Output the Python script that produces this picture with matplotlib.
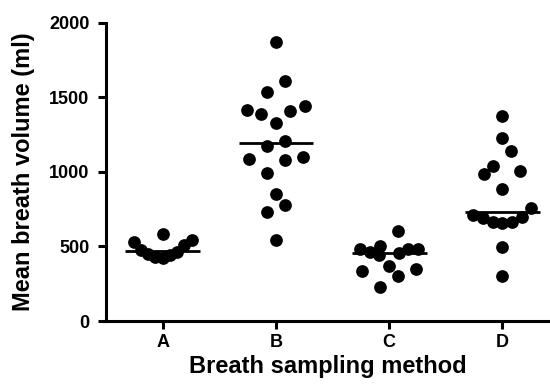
import numpy as np
import matplotlib
matplotlib.use("Agg")
import matplotlib.pyplot as plt

plt.rcParams['font.family'] = ['Liberation Sans', 'DejaVu Sans']
plt.rcParams['font.weight'] = 'bold'

# data (ml)
groups = ['A', 'B', 'C', 'D']
vol_A = [581, 540, 528, 510, 478, 463, 452, 440, 430, 422]
vol_B = [1871, 1606, 1536, 1439, 1412, 1407, 1389, 1327, 1206, 1175,
         1101, 1088, 1079, 990, 853, 779, 730, 541]
vol_C = [603, 505, 482, 480, 480, 464, 458, 442, 369, 348, 335, 302, 230]
vol_D = [1376, 1226, 1137, 1039, 1003, 987, 884, 755, 712, 699, 688,
         665, 665, 659, 498, 302]
yticks = [0, 500, 1000, 1500, 2000]


def row_offsets(ypix, h, smax, half):
    # column-scatter layout: points closer than h (px) share a row and
    # are spread sideways, lowest in the middle, alternating left/right
    order = np.argsort(ypix, kind='stable')
    xs = np.zeros(len(ypix))
    i = 0
    while i < len(order):
        j = i
        while j < len(order) and ypix[order[j]] - ypix[order[i]] < h:
            j += 1
        row = order[i:j]
        n = len(row)
        s = smax if n < 2 else min(smax, 2 * half / (n - 1))
        if n % 2:
            slots = [0.0] + [sg * k * s for k in range(1, n // 2 + 1) for sg in (-1, 1)]
        else:
            slots = [sg * (k - 0.5) * s for k in range(1, n // 2 + 1) for sg in (-1, 1)]
        xs[row] = slots[:n]
        i = j
    return xs


fig = plt.figure(figsize=(5.5, 3.92), dpi=100)
ax = fig.add_axes([0.1927, 0.1811, 0.8073, 0.7615])
ax.set_xlim(-0.5, 3.42)
ax.set_ylim(0, 2000)

bbox = ax.get_window_extent()
px_x = bbox.width / 3.92     # pixels per category unit
px_y = bbox.height / 2000.0  # pixels per ml

for k, vals in enumerate([vol_A, vol_B, vol_C, vol_D]):
    vals = np.array(vals, dtype=float)
    off = row_offsets(vals * px_y, 18.0, 18.0, 29.0) / px_x
    ax.scatter(k + off, vals, s=84, color='black', linewidths=0, zorder=3)
    med = np.median(vals)
    ax.plot([k - 0.33, k + 0.33], [med, med], color='black', lw=2, zorder=4,
            solid_capstyle='butt')

ax.set_xticks(range(len(groups)))
ax.set_xticklabels(groups)
ax.set_yticks(yticks)
ax.set_yticklabels([str(t) for t in yticks])

for s in ['top', 'right']:
    ax.spines[s].set_visible(False)
for s in ['left', 'bottom']:
    ax.spines[s].set_linewidth(2.2)
ax.tick_params(axis='both', direction='out', length=5.5, width=2.2, labelsize=13)
ax.tick_params(axis='x', pad=4)
ax.tick_params(axis='y', pad=6.5)

ax.set_xlabel('Breath sampling method', fontsize=17, fontweight='bold', labelpad=3)
ax.set_ylabel('Mean breath volume (ml)', fontsize=17, fontweight='bold', labelpad=10)

fig.savefig('out.png', dpi=100)
